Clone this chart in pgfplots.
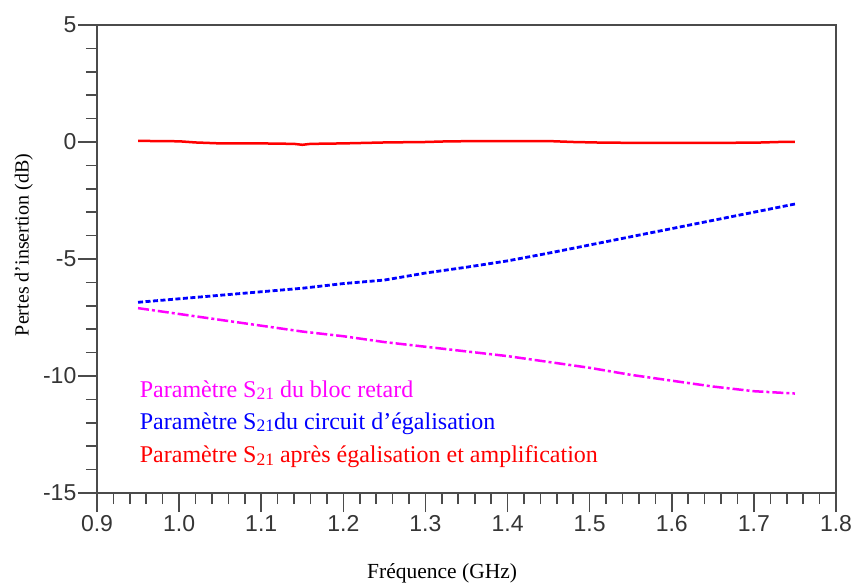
\documentclass[border=0pt]{standalone}
\usepackage{fontspec}
\setmainfont{Liberation Serif}
\newfontfamily\arialfont{Liberation Sans}
\usepackage{pgfplots}
\pgfplotsset{compat=1.18}
\definecolor{axgray}{RGB}{75,75,75}
\definecolor{cmag}{RGB}{255,0,255}
\definecolor{cblue}{RGB}{0,0,255}
\definecolor{cred}{RGB}{255,0,0}
\newcommand{\sub}[1]{\raisebox{-2.5pt}{\fontsize{17.5}{18}\selectfont #1}}
\begin{document}
\begin{tikzpicture}
\begin{axis}[
  scale only axis, width=739pt, height=468pt,
  xmin=0.9, xmax=1.8, ymin=-15, ymax=5,
  xtick={0.9,1.0,1.1,1.2,1.3,1.4,1.5,1.6,1.7,1.8},
  xticklabels={0.9,1.0,1.1,1.2,1.3,1.4,1.5,1.6,1.7,1.8},
  ytick={-15,-10,-5,0,5},
  yticklabels={-15,-10,-5,0,5},
  minor x tick num=4, minor y tick num=4,
  tick align=outside, xtick pos=bottom, ytick pos=left,
  major tick length=19pt, minor tick length=11pt,
  every tick/.style={axgray, line width=1.6pt},
  axis line style={axgray, line width=1.8pt},
  tick label style={font=\arialfont\fontsize{23}{26}\selectfont, text=axgray!70!black},
  yticklabel style={inner sep=1.5pt},
  xticklabel style={inner sep=3pt},
  xlabel={Fréquence (GHz)},
  ylabel={Pertes d’insertion (dB)},
  xlabel style={font=\fontsize{21.5}{24}\selectfont, at={(axis description cs:0.467,-0.171)}, anchor=center},
  ylabel style={font=\fontsize{20}{24}\selectfont, at={(axis description cs:-0.099,0.53)}, anchor=center, rotate=0},
  clip=false,
]
\addplot[cred, line width=2.5pt] coordinates {
 (0.95,0.05) (0.97,0.04) (1.0,0.03) (1.02,-0.02) (1.05,-0.06) (1.1,-0.06)
 (1.14,-0.08) (1.15,-0.12) (1.16,-0.08) (1.2,-0.06) (1.25,-0.02) (1.3,0.0)
 (1.33,0.03) (1.4,0.04) (1.45,0.04) (1.48,0.0) (1.52,-0.03) (1.6,-0.04)
 (1.7,-0.03) (1.73,0.0) (1.75,0.0)};
\addplot[cblue, line width=2.8pt, dash pattern=on 5pt off 2.5pt] coordinates {
 (0.95,-6.85) (1.0,-6.7) (1.05,-6.55) (1.1,-6.4) (1.15,-6.25) (1.2,-6.05)
 (1.25,-5.9) (1.3,-5.6) (1.35,-5.35) (1.4,-5.08) (1.45,-4.75) (1.5,-4.4)
 (1.55,-4.05) (1.6,-3.7) (1.65,-3.35) (1.7,-3.0) (1.75,-2.65)};
\addplot[cmag, line width=2.5pt, dash pattern=on 11pt off 3pt on 3pt off 3pt] coordinates {
 (0.95,-7.1) (1.0,-7.35) (1.05,-7.6) (1.1,-7.85) (1.15,-8.1) (1.2,-8.3)
 (1.25,-8.55) (1.3,-8.75) (1.35,-8.95) (1.4,-9.15) (1.45,-9.4) (1.5,-9.65)
 (1.55,-9.95) (1.6,-10.2) (1.65,-10.45) (1.7,-10.65) (1.75,-10.75)};
\node[anchor=base west, inner sep=0pt, text=cmag, font=\fontsize{24}{27}\selectfont] at (axis cs:0.952,-10.9) {Paramètre S\sub{21} du bloc retard};
\node[anchor=base west, inner sep=0pt, text=cblue, font=\fontsize{24}{27}\selectfont] at (axis cs:0.952,-12.27) {Paramètre S\sub{21}du circuit d’égalisation};
\node[anchor=base west, inner sep=0pt, text=cred, font=\fontsize{24}{27}\selectfont] at (axis cs:0.952,-13.7) {Paramètre S\sub{21} après égalisation et amplification};
\end{axis}
\pgfresetboundingbox
\path[use as bounding box] ([xshift=-97pt,yshift=-90pt]current axis.south west) rectangle ([xshift=17pt,yshift=25pt]current axis.north east);
\end{tikzpicture}
\end{document}
